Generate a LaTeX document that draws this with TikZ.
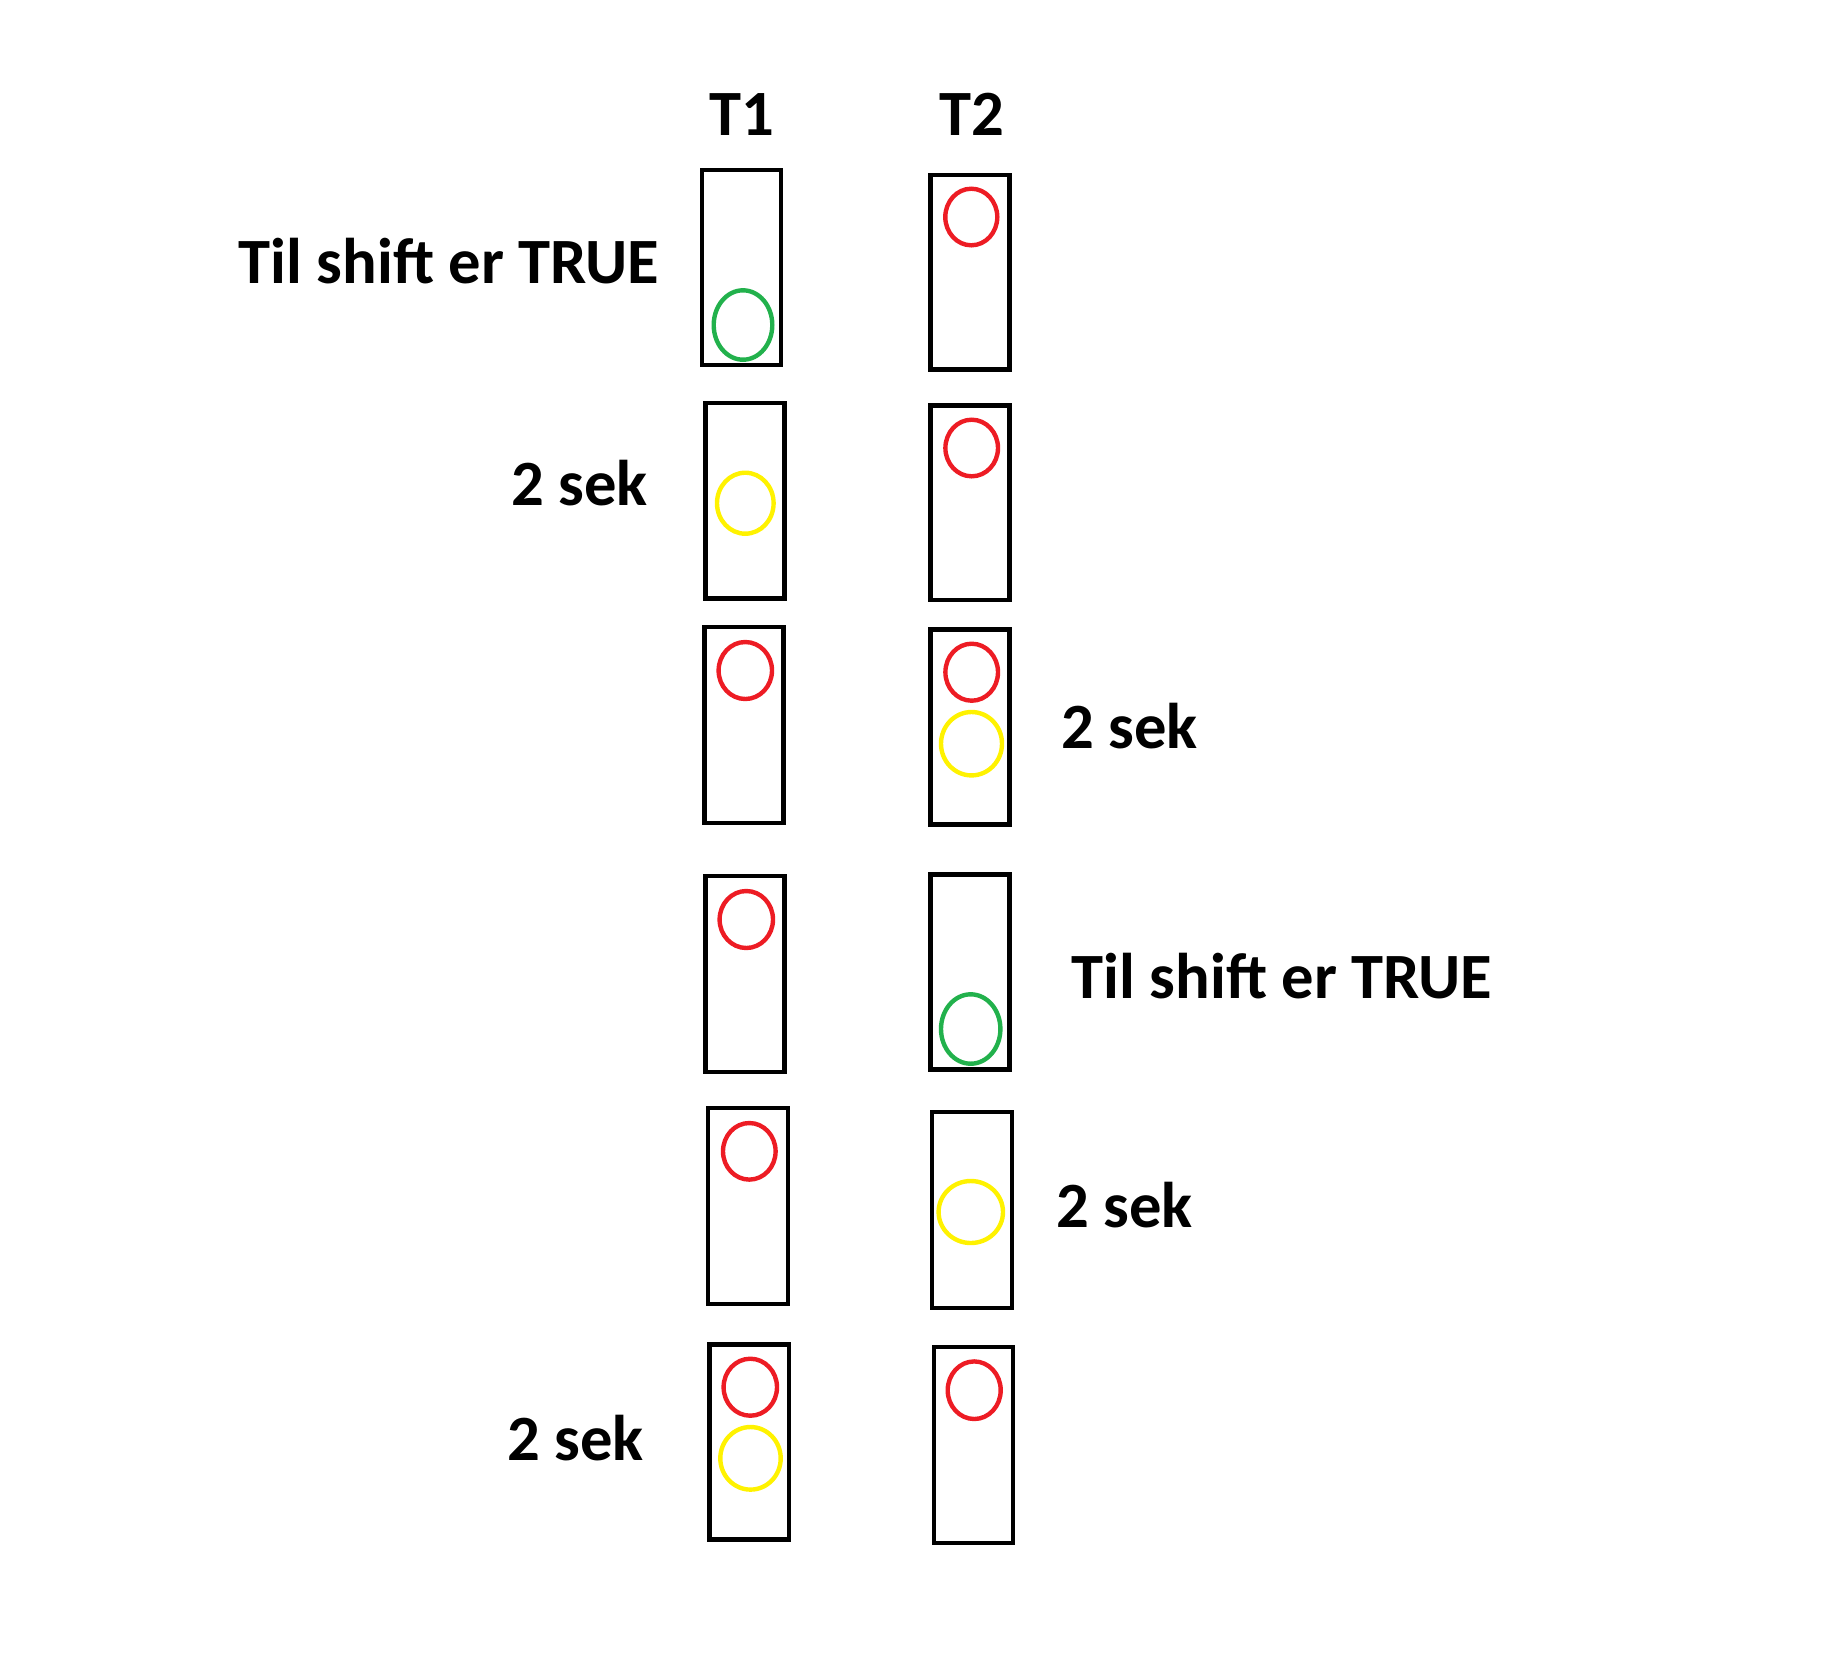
\documentclass[tikz,border=0pt]{standalone}
\usepackage{fontspec}
\setmainfont{Carlito}
\usepackage{tikz}

\definecolor{lampred}{RGB}{237,28,36}
\definecolor{lampyellow}{RGB}{255,242,0}
\definecolor{lampgreen}{RGB}{34,177,76}

\begin{document}
\begin{tikzpicture}[x=0.5pt,y=-0.5pt,line width=2.3pt,
    txt/.style={anchor=base west,inner sep=0pt,font=\fontsize{32.3pt}{38pt}\selectfont\bfseries},
    lamp/.style={line width=2.2pt}]
          \useasboundingbox (0,0) rectangle (1832,1678);
          \node[txt] (t1) at (707,135) {T1};
          \node[txt] (t2) at (937,135) {T2};
          \node[txt] (shiftA) at (236,283) {Til shift er TRUE};
          \node[txt] (sekA) at (509,505) {2 sek};
          \node[txt] (sekB) at (1059,748) {2 sek};
          \node[txt] (shiftB) at (1069,998) {Til shift er TRUE};
          \node[txt] (sekC) at (1054,1227) {2 sek};
          \node[txt] (sekD) at (505,1460) {2 sek};
          \draw (702,170) rectangle (781,365);
          \draw[lamp,lampgreen] (743,325) ellipse (29.3 and 34.7);
          \draw (930.5,175) rectangle (1009.5,369.5);
          \draw[lamp,lampred] (971.3,217) ellipse (26 and 28.3);
          \draw (705.5,403) rectangle (784.5,598.5);
          \draw[lamp,lampyellow] (745.3,503.2) ellipse (28.3 and 30.5);
          \draw (930.5,405.5) rectangle (1009.5,600);
          \draw[lamp,lampred] (971.7,448) ellipse (26.3 and 28.3);
          \draw (704.5,627) rectangle (783.5,823);
          \draw[lamp,lampred] (745.3,670.5) ellipse (26.7 and 28.5);
          \draw (930.5,629.5) rectangle (1009.5,824.5);
          \draw[lamp,lampred] (971.7,672.2) ellipse (26.3 and 28.5);
          \draw[lamp,lampyellow] (971.5,743.7) ellipse (30.5 and 31.7);
          \draw (705.5,876) rectangle (784.5,1072);
          \draw[lamp,lampred] (746.3,919.5) ellipse (26.7 and 28.5);
          \draw (930.5,874.5) rectangle (1009.5,1069.5);
          \draw[lamp,lampgreen] (970.7,1029) ellipse (29.7 and 34.7);
          \draw (708,1108) rectangle (788,1304);
          \draw[lamp,lampred] (749.3,1151.3) ellipse (26.3 and 28.3);
          \draw (932,1112) rectangle (1012,1308);
          \draw[lamp,lampyellow] (970.8,1212) ellipse (32.2 and 31);
          \draw (709.5,1344.5) rectangle (789,1539.5);
          \draw[lamp,lampred] (750.3,1387.2) ellipse (26.7 and 28.5);
          \draw[lamp,lampyellow] (750.5,1458.3) ellipse (30.2 and 31.3);
          \draw (934,1347) rectangle (1013,1543);
          \draw[lamp,lampred] (974.2,1390.2) ellipse (26.5 and 28.8);
        \end{tikzpicture}
\end{document}
